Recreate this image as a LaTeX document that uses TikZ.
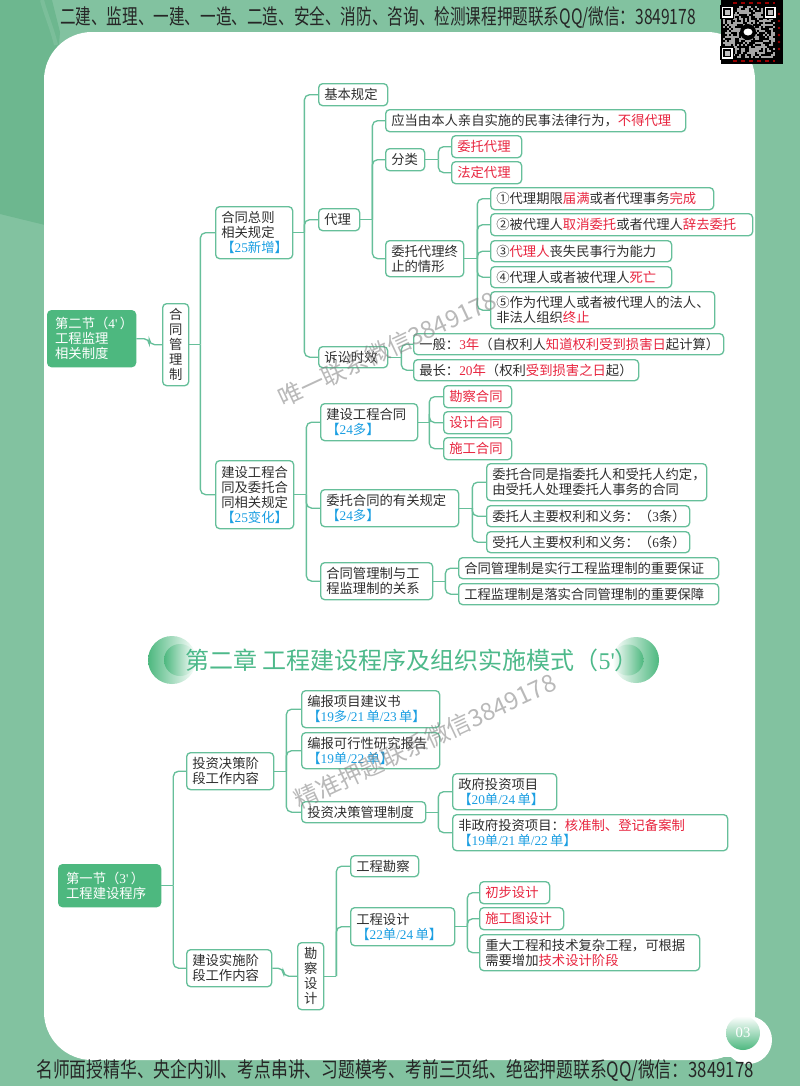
\documentclass[tikz,border=0pt]{standalone}
\usepackage{fontspec}
\usepackage{graphicx}
\setmainfont{Noto Sans CJK SC}
\newfontfamily\lat{Liberation Serif}
\usetikzlibrary{shadings}

\definecolor{pagegreen}{HTML}{82C2A0}
\definecolor{pagedark}{HTML}{6DB78F}
\definecolor{rootgreen}{HTML}{4DB87F}
\definecolor{linegreen}{HTML}{66BF9A}
\definecolor{titlegreen}{HTML}{4DB98A}
\definecolor{txtred}{HTML}{E8253F}
\definecolor{txtblue}{HTML}{1C9FE2}
\definecolor{txtdark}{HTML}{2E2E2E}

\newcommand{\redtxt}[1]{\textcolor{txtred}{#1}}
\newcommand{\bluetxt}[1]{\textcolor{txtblue}{#1}}
\newcommand{\numtxt}[1]{{\lat #1}}
\newcommand{\branch}[3]{
   \draw[link] (#1.east) -- ++(#2,0) coordinate (#1-fork);
   \foreach \kid in {#3} \draw[link] (#1-fork) |- (\kid.west);
}

\tikzset{
   box/.style 2 args={
      draw=linegreen,
      fill=white,
      line width=1pt,
      rounded corners=3pt,
      anchor=north west,
      align=left,
      inner xsep=4.2pt,
      inner ysep=0pt,
      text=txtdark,
      font=\fontsize{10}{11.3}\selectfont,
      text width=(#1-11.2)*0.75pt,
      minimum height=#2*0.75pt
   },
   rootbox/.style 2 args={
      box={#1}{#2},
      fill=rootgreen,
      draw=rootgreen,
      text=white,
      inner xsep=5.6pt,
      text width=(#1-15)*0.75pt
   },
   upright/.style 2 args={
      box={#1}{#2},
      align=center
   },
   link/.style={
      draw=linegreen,
      line width=1pt,
      rounded corners=4pt
   },
   wmark/.style={
      text=gray,
      opacity=.55,
      rotate=25,
      font=\fontsize{18}{18}\selectfont
   }
}

\begin{document}
\begin{tikzpicture}[x=.75pt,y=-.75pt]
   \useasboundingbox (0,0) rectangle (800,1086);
   \fill[pagegreen] (0,0) rectangle (800,1086);
   \fill[pagedark] (0,0) -- (52,0) -- (60,32) -- (45,225) -- (0,214) -- cycle;
   \draw[white,opacity=.1,line width=3pt] (42,0) .. controls (46,15) and (52,28) .. (56,45);
   \fill[white,rounded corners=36pt] (44,32) rectangle (755,1060);
   \fill[white] (690,1000) rectangle (755,1057);

   % page number
   \fill[white] (748,1040) circle[radius=24];
   \shade[top color=white,bottom color=rootgreen] (743,1033) circle[radius=17];
   \node[text=white,font=\fontsize{11}{11}\selectfont\lat] (pageno) at (743,1033) {03};

   % bands
   \node[text=black!85] (topband) at (378,17) {\resizebox{477pt}{13.5pt}{二建、监理、一建、一造、二造、安全、消防、咨询、检测课程押题联系QQ/微信：3849178}};
   \node[text=black!85] (botband) at (395,1070) {\resizebox{538pt}{13.5pt}{名师面授精华、央企内训、考点串讲、习题模考、考前三页纸、绝密押题联系QQ/微信：3849178}};

   % qr code
   \fill[black] (721,0) rectangle (783,64);
   \pgfmathsetseed{7}
   \foreach \i in {0,...,25}
   \foreach \j in {0,...,25}{
      \pgfmathrandominteger{\pick}{0}{1}
      \ifnum\pick=1
         \fill[white!65!black] (723+2*\i,6+2*\j) rectangle ++(2,2);
      \fi
   }
   \foreach \cx/\cy in {727/12,770/12,727/53}{
      \fill[black] (\cx-7,\cy-7) rectangle (\cx+7,\cy+7);
      \fill[white] (\cx-5.5,\cy-5.5) rectangle (\cx+5.5,\cy+5.5);
      \fill[black] (\cx-4,\cy-4) rectangle (\cx+4,\cy+4);
      \fill[white!75!black] (\cx-2.5,\cy-2.5) rectangle (\cx+2.5,\cy+2.5);
   }
   \fill[black] (748,32) circle[radius=8];
   \fill[white] (748,32) ellipse[x radius=4.5,y radius=3.5];
   \draw[red!60!black,dashed,line width=1pt] (733,3) -- (775,3);
   \draw[red!60!black,dashed,line width=1pt] (733,61) -- (775,61);
   \foreach \dy in {14,21,...,49}
   \fill[red!60!black] (779,\dy) circle[radius=1.3];

   % chapter title
   \shade[left color=rootgreen,right color=white] (172,660) circle[radius=24];
   \shade[left color=rootgreen,right color=white] (180,660) circle[radius=16];
   \shade[right color=rootgreen,left color=white] (636,660) circle[radius=23];
   \shade[right color=rootgreen,left color=white] (628,660) circle[radius=15.5];
   \node[text=titlegreen,font=\fontsize{18}{18}\selectfont,anchor=west,inner sep=0pt] (chapter) at (185,660) {第二章 工程建设程序及组织实施模式（\numtxt{5'}）};

   % section two
   \node[rootbox={88}{56}] (secb) at (47,310) {第二节（\numtxt{4'}\,）\\工程监理\\相关制度};
   \node[upright={26}{82}] (hetong) at (162,303) {合\\同\\管\\理\\制};
   \node[box={77}{52}] (zongze) at (215,206) {合同总则\\相关规定\\\bluetxt{【\numtxt{25}新增】}};
   \node[box={78}{68}] (weituo) at (215,460) {建设工程合\\同及委托合\\同相关规定\\\bluetxt{【\numtxt{25}变化】}};
   \node[box={69}{22}] (jiben) at (318,83) {基本规定};
   \node[box={41}{22}] (daili) at (318,208) {代理};
   \node[box={69}{21}] (susong) at (318,346) {诉讼时效};
   \node[box={300}{22}] (yingdang) at (385,109) {应当由本人亲自实施的民事法律行为，\redtxt{不得代理}};
   \node[box={39}{22}] (fenlei) at (385,148) {分类};
   \node[box={70}{22}] (wtdl) at (451,135) {\redtxt{委托代理}};
   \node[box={70}{22}] (fddl) at (451,161) {\redtxt{法定代理}};
   \node[box={78}{36}] (zhongzhi) at (385,240) {委托代理终\\止的情形};
   \node[box={223}{22}] (zza) at (490,187) {①代理期限\redtxt{届满}或者代理事务\redtxt{完成}};
   \node[box={262}{22}] (zzb) at (490,213) {②被代理人\redtxt{取消委托}或者代理人\redtxt{辞去委托}};
   \node[box={181}{21}] (zzc) at (490,240) {③\redtxt{代理人}丧失民事行为能力};
   \node[box={181}{21}] (zzd) at (490,266) {④代理人或者被代理人\redtxt{死亡}};
   \node[box={224}{37}] (zze) at (490,291) {⑤作为代理人或者被代理人的法人、\\非法人组织\redtxt{终止}};
   \node[box={310}{21}] (yiban) at (413,333) {一般：\redtxt{\numtxt{3}年}（自权利人\redtxt{知道权利受到损害日}起计算）};
   \node[box={225}{21}] (zuichang) at (413,359) {最长：\redtxt{\numtxt{20}年}（权利\redtxt{受到损害之日}起）};
   \node[box={97}{37}] (jsht) at (320,403) {建设工程合同\\\bluetxt{【\numtxt{24}多】}};
   \node[box={68}{22}] (kancha) at (443,385) {\redtxt{勘察合同}};
   \node[box={68}{22}] (sheji) at (443,411) {\redtxt{设计合同}};
   \node[box={68}{22}] (shigong) at (443,437) {\redtxt{施工合同}};
   \node[box={138}{37}] (wtht) at (320,489) {委托合同的有关规定\\\bluetxt{【\numtxt{24}多】}};
   \node[box={220}{37}] (wta) at (486,463) {委托合同是指委托人和受托人约定，\\由受托人处理委托人事务的合同};
   \node[box={203}{21}] (wtb) at (486,505) {委托人主要权利和义务：（\numtxt{3}条）};
   \node[box={203}{21}] (wtc) at (486,531) {受托人主要权利和义务：（\numtxt{6}条）};
   \node[box={112}{37}] (gxi) at (320,562) {合同管理制与工\\程监理制的关系};
   \node[box={260}{21}] (gxa) at (458,557) {合同管理制是实行工程监理制的重要保证};
   \node[box={260}{21}] (gxb) at (458,583) {工程监理制是落实合同管理制的重要保障};

   \draw[link] (secb.east) -- ++(13,0) |- (hetong.west);
   \branch{hetong}{11}{zongze,weituo}
   \branch{zongze}{11}{jiben,daili,susong}
   \branch{daili}{12}{yingdang,fenlei,zhongzhi}
   \branch{fenlei}{13}{wtdl,fddl}
   \branch{zhongzhi}{13}{zza,zzb,zzc,zzd,zze}
   \branch{susong}{13}{yiban,zuichang}
   \branch{weituo}{12}{jsht,wtht,gxi}
   \branch{jsht}{11}{kancha,sheji,shigong}
   \branch{wtht}{13}{wta,wtb,wtc}
   \branch{gxi}{12}{gxa,gxb}

   % section one
   \node[rootbox={102}{42}] (seca) at (58,864) {第一节（\numtxt{3'}\,）\\工程建设程序};
   \node[box={87}{37}] (touzi) at (186,752) {投资决策阶\\段工作内容};
   \node[box={85}{37}] (shishi) at (186,949) {建设实施阶\\段工作内容};
   \node[box={138}{37}] (bianbao) at (301,690) {编报项目建议书\\\bluetxt{【\numtxt{19}多\numtxt{/21}\,单\numtxt{/23}\,单】}};
   \node[box={138}{36}] (kexing) at (301,732) {编报可行性研究报告\\\bluetxt{【\numtxt{19}单\numtxt{/22}\,单】}};
   \node[box={124}{21}] (guanli) at (301,801) {投资决策管理制度};
   \node[box={104}{36}] (zhengfu) at (452,773) {政府投资项目\\\bluetxt{【\numtxt{20}单\numtxt{/24}\,单】}};
   \node[box={275}{36}] (feizf) at (452,814) {非政府投资项目：\redtxt{核准制、登记备案制}\\\bluetxt{【\numtxt{19}单\numtxt{/21}\,单\numtxt{/22}\,单】}};
   \node[upright={26}{67}] (kcsj) at (297,942) {勘\\察\\设\\计};
   \node[box={68}{21}] (gckc) at (350,855) {工程勘察};
   \node[box={104}{38}] (gcsj) at (350,907) {工程设计\\\bluetxt{【\numtxt{22}单\numtxt{/24}\,单】}};
   \node[box={70}{22}] (chubu) at (479,881) {\redtxt{初步设计}};
   \node[box={84}{22}] (tuzhi) at (479,907) {\redtxt{施工图设计}};
   \node[box={220}{36}] (zhongda) at (479,934) {重大工程和技术复杂工程，可根据\\需要增加\redtxt{技术设计阶段}};

   \branch{seca}{12}{touzi,shishi}
   \branch{touzi}{12}{bianbao,kexing,guanli}
   \branch{guanli}{12}{zhengfu,feizf}
   \draw[link] (shishi.east) -- ++(11,0) |- (kcsj.west);
   \branch{kcsj}{12}{gckc,gcsj}
   \branch{gcsj}{12}{chubu,tuzhi,zhongda}

   % watermarks
   \node[wmark] (marka) at (387,349) {唯一联系微信3849178};
   \node[wmark] (markb) at (425,741) {精准押题联系微信3849178};
\end{tikzpicture}
\end{document}
